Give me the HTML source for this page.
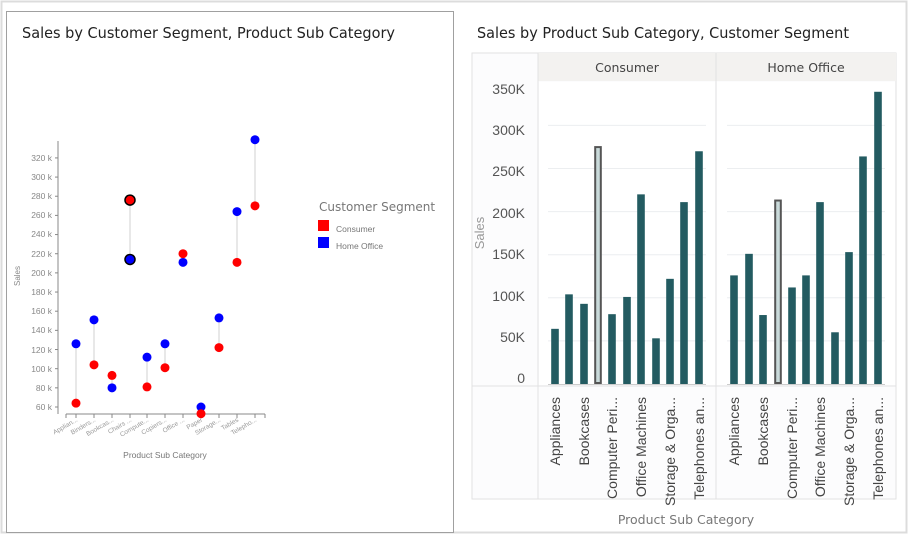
<!DOCTYPE html>
<html><head><meta charset="utf-8"><style>
html,body{margin:0;padding:0;background:#fff;}
svg{display:block;font-family:"Liberation Sans",sans-serif;}
</style></head><body>
<svg id="s" width="909" height="535" viewBox="0 0 909 535" xmlns="http://www.w3.org/2000/svg">
<rect x="1.5" y="1.5" width="905" height="531" fill="#fff" stroke="#dcdcdc" stroke-width="2"/>
<rect x="6.5" y="11.5" width="447" height="521" fill="#fff" stroke="#a0a0a0" stroke-width="1"/>
<text x="22" y="38" font-family="DejaVu Sans, sans-serif" font-size="15" fill="#222" textLength="373" lengthAdjust="spacingAndGlyphs">Sales by Customer Segment, Product Sub Category</text>
<text x="477" y="38" font-family="DejaVu Sans, sans-serif" font-size="15" fill="#222" textLength="372" lengthAdjust="spacingAndGlyphs">Sales by Product Sub Category, Customer Segment</text>

<!-- LEFT CHART -->
<g id="left" font-size="8" fill="#888">
<line x1="58" y1="141" x2="58" y2="414" stroke="#888" stroke-width="1"/>
<line x1="66" y1="414" x2="265" y2="414" stroke="#888" stroke-width="1"/>
<g text-anchor="end" font-size="8.5">
<text x="52" y="161">320 k</text>
<text x="52" y="180">300 k</text><text x="52" y="199">280 k</text><text x="52" y="218">260 k</text>
<text x="52" y="237">240 k</text><text x="52" y="257">220 k</text><text x="52" y="276">200 k</text>
<text x="52" y="295">180 k</text><text x="52" y="314">160 k</text><text x="52" y="333">140 k</text>
<text x="52" y="353">120 k</text><text x="52" y="372">100 k</text><text x="52" y="391">80 k</text>
<text x="52" y="410">60 k</text>
</g>
<text transform="translate(20,276) rotate(-90)" text-anchor="middle" font-size="8">Sales</text>
<g text-anchor="end" font-size="6.5" fill="#999">
<text transform="translate(78,421) rotate(-30)">Applian...</text>
<text transform="translate(96,421) rotate(-30)">Binders...</text>
<text transform="translate(114,421) rotate(-30)">Bookcas...</text>
<text transform="translate(132,421) rotate(-30)">Chairs ...</text>
<text transform="translate(149,421) rotate(-30)">Compute...</text>
<text transform="translate(167,421) rotate(-30)">Copiers...</text>
<text transform="translate(185,421) rotate(-30)">Office ...</text>
<text transform="translate(203,421) rotate(-30)">Paper</text>
<text transform="translate(221,421) rotate(-30)">Storage...</text>
<text transform="translate(239,421) rotate(-30)">Tables</text>
<text transform="translate(257,421) rotate(-30)">Telepho...</text>
</g>
<text x="165" y="458" text-anchor="middle" font-size="8.5" fill="#777">Product Sub Category</text>
<text x="319" y="211" font-family="DejaVu Sans, sans-serif" font-size="12" fill="#777">Customer Segment</text>
<rect x="318" y="220" width="11" height="11" fill="#f00"/>
<text x="336" y="232" font-size="8.5" fill="#777">Consumer</text>
<rect x="318" y="237" width="11" height="11" fill="#00f"/>
<text x="336" y="249" font-size="8.5" fill="#777">Home Office</text>
</g>

<!-- RIGHT CHART -->
<rect x="472" y="53" width="424" height="446" fill="#fcfcfd" stroke="#e2e2e2"/>
<rect x="538" y="53" width="358" height="28" fill="#f3f2f0"/>
<line x1="538" y1="53" x2="538" y2="499" stroke="#e2e2e2"/>
<line x1="716" y1="53" x2="716" y2="499" stroke="#e2e2e2"/>
<line x1="472" y1="386" x2="896" y2="386" stroke="#e2e2e2"/>
<rect x="539" y="82" width="176" height="303" fill="#fff"/>
<rect x="717" y="82" width="178" height="303" fill="#fff"/>
<text x="627" y="72" text-anchor="middle" font-family="DejaVu Sans, sans-serif" font-size="12.5" fill="#444">Consumer</text>
<text x="806" y="72" text-anchor="middle" font-family="DejaVu Sans, sans-serif" font-size="12.5" fill="#444">Home Office</text>
<g text-anchor="end" font-size="14" fill="#555">
<text x="525" y="94">350K</text><text x="525" y="135">300K</text><text x="525" y="176">250K</text>
<text x="525" y="218">200K</text><text x="525" y="259">150K</text><text x="525" y="301">100K</text>
<text x="525" y="342">50K</text><text x="525" y="383">0</text>
</g>
<text transform="translate(484,233) rotate(-90)" text-anchor="middle" font-size="13" fill="#999">Sales</text>
<g id="grid"></g>
<g id="bars"></g>
<g font-size="14" fill="#444" text-anchor="end">
<text transform="translate(560,397) rotate(-90)">Appliances</text>
<text transform="translate(589,397) rotate(-90)">Bookcases</text>
<text transform="translate(617,397) rotate(-90)">Computer Peri...</text>
<text transform="translate(646,397) rotate(-90)">Office Machines</text>
<text transform="translate(675,397) rotate(-90)">Storage &amp; Orga...</text>
<text transform="translate(704,397) rotate(-90)">Telephones an...</text>
<text transform="translate(739,397) rotate(-90)">Appliances</text>
<text transform="translate(768,397) rotate(-90)">Bookcases</text>
<text transform="translate(797,397) rotate(-90)">Computer Peri...</text>
<text transform="translate(825,397) rotate(-90)">Office Machines</text>
<text transform="translate(854,397) rotate(-90)">Storage &amp; Orga...</text>
<text transform="translate(883,397) rotate(-90)">Telephones an...</text>
</g>
<text x="686" y="524" text-anchor="middle" font-family="DejaVu Sans, sans-serif" font-size="12.5" fill="#777">Product Sub Category</text>
</svg>
<script>
var NS="http://www.w3.org/2000/svg",s=document.getElementById('s');
function el(t,a,p){var e=document.createElementNS(NS,t);for(var k in a)e.setAttribute(k,a[k]);(p||s).appendChild(e);return e;}
var con=[64,104,93,276,81,101,220,53,122,211,270],ho=[126,151,80,214,112,126,211,60,153,264,339];
for(var v=60;v<=320;v+=20){var y=407-(v-60)*0.958;el('line',{x1:55,x2:58,y1:y,y2:y,stroke:'#888'});}
var lx=[76,94,112,130,147,165,183,201,219,237,255];
el('line',{x1:66,x2:66,y1:414,y2:418,stroke:'#888'});el('line',{x1:265,x2:265,y1:414,y2:418,stroke:'#888'});
for(var i=0;i<11;i++){
 el('line',{x1:lx[i],x2:lx[i],y1:414,y2:418,stroke:'#888'});
 var yc=407-(con[i]-60)*0.958,yh=407-(ho[i]-60)*0.958;
 el('line',{x1:lx[i],x2:lx[i],y1:yc,y2:yh,stroke:'#d0d0d0'});
}
for(var i=0;i<11;i++){
 var yc=407-(con[i]-60)*0.958,yh=407-(ho[i]-60)*0.958,h=i==3;
 el('circle',{cx:lx[i],cy:yh,r:h?5:4.5,fill:'#00f',stroke:h?'#000':'none','stroke-width':1.5});
 el('circle',{cx:lx[i],cy:yc,r:h?5:4.5,fill:'#f00',stroke:h?'#000':'none','stroke-width':1.5});
}
var g=document.getElementById('grid'),b=document.getElementById('bars');
for(var k=1;k<=6;k++){var y=384-k*43.1;el('line',{x1:548,x2:706,y1:y,y2:y,stroke:'#eceef0'},g);el('line',{x1:727,x2:885,y1:y,y2:y,stroke:'#eceef0'},g);}
el('line',{x1:548,x2:706,y1:384.5,y2:384.5,stroke:'#ccc'},g);el('line',{x1:727,x2:885,y1:384.5,y2:384.5,stroke:'#ccc'},g);
var cx=[555,569,584,598,612,627,641,656,670,684,699],hx=[734,749,763,778,792,806,820,835,849,863,878];
function bar(x,v,h){var t=384-v*0.862;
 if(h){el('rect',{x:x-3.8,y:t,width:7.6,height:384-t,fill:'#555'},b);el('rect',{x:x-1.8,y:t+2,width:3.6,height:380-t,fill:'#c9dada'},b);}
 else el('rect',{x:x-3.8,y:t,width:7.6,height:384-t,fill:'#235b61'},b);}
for(var i=0;i<11;i++){bar(cx[i],con[i],i==3);bar(hx[i],ho[i],i==3);}
</script>
</body></html>
